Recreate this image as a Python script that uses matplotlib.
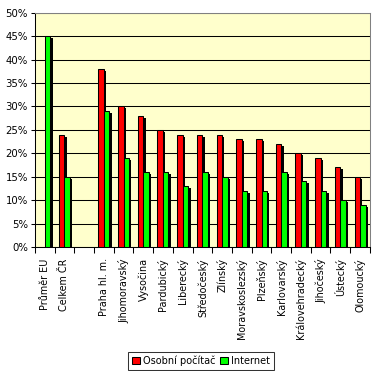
import matplotlib
matplotlib.use("Agg")
import matplotlib.pyplot as plt
from matplotlib.patches import Patch
import numpy as np

categories = ["Průměr EU", "Celkem ČR", "", "Praha hl. m.", "Jihomoravský", "Vysočina",
              "Pardubický", "Liberecký", "Středočeský", "Zlínský", "Moravskoslezský",
              "Plzeňský", "Karlovarský", "Královehradecký", "Jihočeský", "Ústecký", "Olomoucký"]
pc = [None, 24, None, 38, 30, 28, 25, 24, 24, 24, 23, 23, 22, 20, 19, 17, 15]
internet = [45, 15, None, 29, 19, 16, 16, 13, 16, 15, 12, 12, 16, 14, 12, 10, 9]
yticks = [0, 5, 10, 15, 20, 25, 30, 35, 40, 45, 50]
ytick_labels = ["0%", "5%", "10%", "15%", "20%", "25%", "30%", "35%", "40%", "45%", "50%"]

plt.rcParams['font.family'] = ['DejaVu Sans']
fig = plt.figure(figsize=(3.75, 3.71), dpi=100)
ax = fig.add_axes([0.093, 0.334, 0.8934, 0.632])
ax.set_facecolor('#FFFFCC')

w = 0.28
dx = 0.12
dy = 0.43
lw = 0.75
x = np.arange(len(categories))
for i in x:
    for val, off, col in ((pc[i], -w / 2, '#FF0000'), (internet[i], w / 2, '#00FF00')):
        if val is None:
            continue
        ax.bar(i + off + dx, val - dy, width=w, color='black', zorder=2, linewidth=0)
        ax.bar(i + off, val, width=w, color=col, edgecolor='black', linewidth=lw, zorder=3)

ax.set_xlim(-0.5, len(categories) - 0.5)
ax.set_ylim(0, 50)
ax.set_yticks(yticks)
ax.set_yticklabels(ytick_labels, fontsize=7.3)
ax.yaxis.grid(True, color='black', linewidth=0.75, zorder=1)
ax.set_axisbelow(True)
ax.tick_params(axis='y', direction='out', length=3, width=0.75, pad=2)

ax.set_xticks(x)
ax.set_xticklabels(categories, rotation=90, fontsize=6.9, va='top')
ax.tick_params(axis='x', length=0, pad=8)
ax.set_xticks(np.arange(-0.5, len(categories)), minor=True)
ax.tick_params(axis='x', which='minor', direction='out', length=4, width=0.75)

for s in ('left', 'bottom'):
    ax.spines[s].set_color('black')
    ax.spines[s].set_linewidth(0.75)
for s in ('top', 'right'):
    ax.spines[s].set_color('#808080')
    ax.spines[s].set_linewidth(0.75)

handles = [Patch(facecolor='#FF0000', edgecolor='black', linewidth=0.75, label='Osobní počítač'),
           Patch(facecolor='#00FF00', edgecolor='black', linewidth=0.75, label='Internet')]
leg = fig.legend(handles=handles, loc='lower center', bbox_to_anchor=(0.536, 0.0), ncol=2,
                 fontsize=7, frameon=True, fancybox=False, handlelength=0.8, handleheight=0.8,
                 handletextpad=0.3, columnspacing=0.5, borderpad=0.4, borderaxespad=0.1)
leg.get_frame().set_edgecolor('black')
leg.get_frame().set_linewidth(0.75)

fig.savefig('out.png', dpi=100)
